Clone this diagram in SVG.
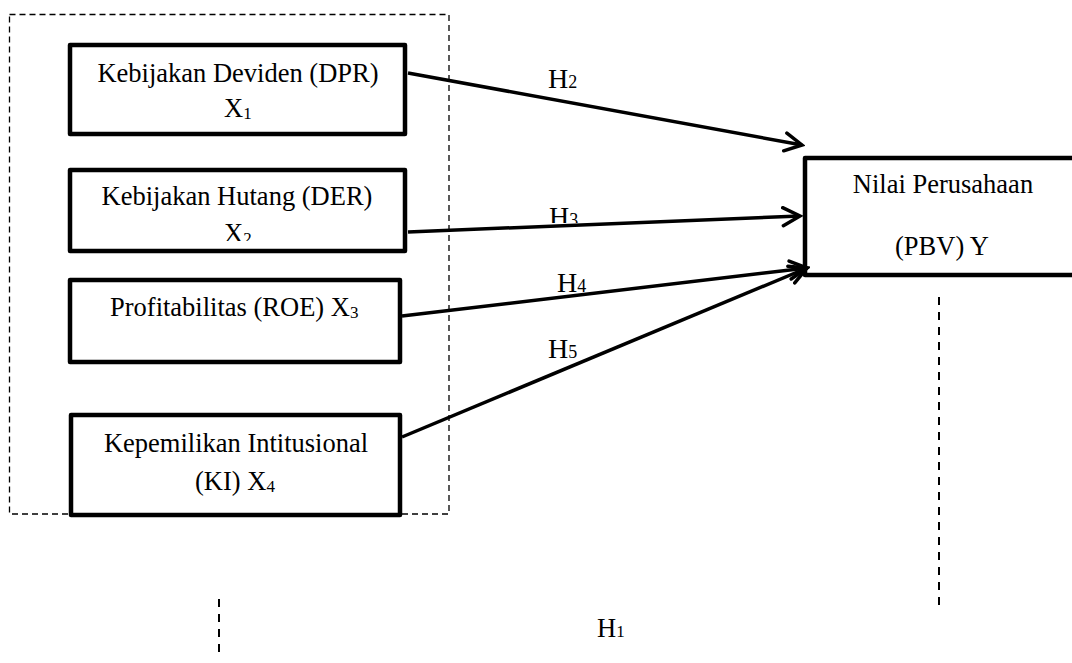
<svg xmlns="http://www.w3.org/2000/svg" width="1072" height="663" viewBox="0 0 1072 663">
  <style>
    .box { fill: #ffffff; stroke: #000000; stroke-width: 4.5; stroke-linejoin: round; }
    .t { font-family: "Liberation Serif", "Times New Roman", serif; font-size: 26.5px; fill: #000000; }
    .h { font-size: 28px; }
    .c { text-anchor: middle; }
    .conn { stroke: #000000; stroke-width: 3.5; fill: none; marker-end: url(#arrow); }
    .dash1 { stroke: #000000; stroke-width: 1.3; fill: none; stroke-dasharray: 6 4; }
    .dash2 { stroke: #000000; stroke-width: 2; fill: none; stroke-dasharray: 8 7; }
  </style>
  <defs>
    <marker id="arrow" markerUnits="userSpaceOnUse" viewBox="0 0 22 22" markerWidth="22" markerHeight="22" refX="19" refY="11" orient="auto">
      <path d="M2,2 L19,11 L2,20" fill="none" stroke="#000000" stroke-width="3.5" stroke-linecap="round" stroke-linejoin="miter"/>
    </marker>
    <clipPath id="clipX2"><rect x="60" y="160" width="360" height="81"/></clipPath>
    <clipPath id="clipH3"><rect x="520" y="190" width="100" height="33"/></clipPath>
  </defs>
  <rect width="1072" height="663" fill="#ffffff"/>

  <g id="group-box">
    <rect class="dash1" x="9.5" y="14.5" width="439.5" height="499.5"/>
  </g>

  <g id="node-x1">
    <rect class="box" x="70" y="45" width="335" height="89"/>
    <text class="t c" x="238" y="82">Kebijakan Deviden (DPR)</text>
    <text class="t" x="224" y="117">X<tspan font-size="17" dy="2">1</tspan></text>
  </g>

  <g id="node-x2">
    <rect class="box" x="70" y="170" width="335" height="81"/>
    <text class="t c" x="237" y="205">Kebijakan Hutang (DER)</text>
    <text class="t" x="224" y="242" clip-path="url(#clipX2)">X<tspan font-size="17" dy="2">2</tspan></text>
  </g>

  <g id="node-x3">
    <rect class="box" x="70" y="280" width="330" height="82"/>
    <text class="t" x="110" y="316">Profitabilitas (ROE) X<tspan font-size="17" dy="2">3</tspan></text>
  </g>

  <g id="node-x4">
    <rect class="box" x="71" y="415" width="329" height="100"/>
    <text class="t c" x="236" y="452">Kepemilikan Intitusional</text>
    <text class="t" x="195" y="490">(KI) X<tspan font-size="17" dy="2">4</tspan></text>
  </g>

  <g id="node-y">
    <rect class="box" x="805" y="158" width="300" height="117"/>
    <text class="t c" x="943" y="193">Nilai Perusahaan</text>
    <text class="t c" x="942" y="255">(PBV) Y</text>
  </g>

  <g id="connectors">
    <line class="conn" x1="408" y1="73" x2="802" y2="145"/>
    <line class="conn" x1="408" y1="232" x2="800" y2="216"/>
    <line class="conn" x1="402" y1="316" x2="807" y2="268"/>
    <line class="conn" x1="402" y1="437" x2="807" y2="268"/>
    <line class="dash2" x1="939" y1="297" x2="939" y2="605"/>
    <line class="dash2" x1="219" y1="599" x2="219" y2="653"/>
  </g>

  <g id="labels">
    <text class="t h" x="548" y="88">H<tspan font-size="18">2</tspan></text>
    <text class="t h" x="549" y="226" clip-path="url(#clipH3)">H<tspan font-size="18">3</tspan></text>
    <text class="t h" x="557" y="292">H<tspan font-size="18">4</tspan></text>
    <text class="t h" x="548" y="358">H<tspan font-size="18">5</tspan></text>
    <text class="t" x="597" y="637">H<tspan font-size="17">1</tspan></text>
  </g>
</svg>
